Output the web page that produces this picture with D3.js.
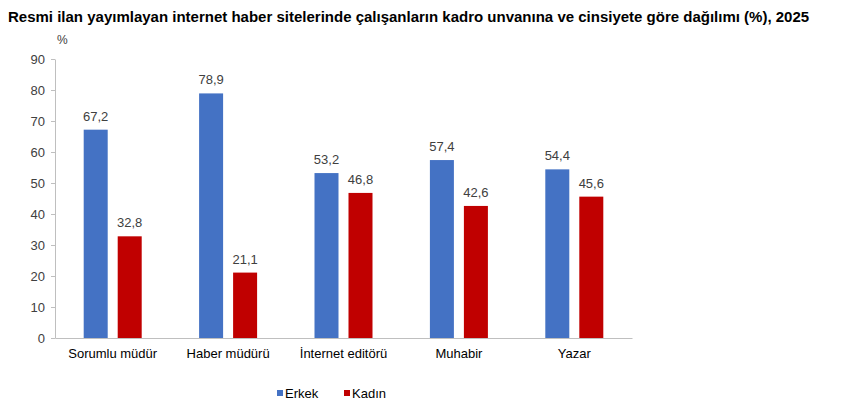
<!DOCTYPE html>
<html>
<head>
<meta charset="utf-8">
<script src="https://cdn.jsdelivr.net/npm/d3@7"></script>
<style>
  body { margin: 0; background: #fff; }
  svg { font-family: Arial, "Liberation Sans", sans-serif; }
</style>
</head>
<body>
<svg id="chart"></svg>
<script>
const titleText = "Resmi ilan yayımlayan internet haber sitelerinde çalışanların kadro unvanına ve cinsiyete göre dağılımı (%), 2025";
const categories = ["Sorumlu müdür", "Haber müdürü", "İnternet editörü", "Muhabir", "Yazar"];
const seriesNames = ["Erkek", "Kadın"];
const erkek = [67.2, 78.9, 53.2, 57.4, 54.4];
const kadin = [32.8, 21.1, 46.8, 42.6, 45.6];
const yTicks = [0, 10, 20, 30, 40, 50, 60, 70, 80, 90];
const colors = ["#4472C4", "#C00000"];

const width = 850, height = 416;
const margin = {top: 59, right: 218, bottom: 78, left: 55};
const innerW = width - margin.left - margin.right;
const innerH = height - margin.top - margin.bottom;

const svg = d3.select("#chart")
    .attr("width", width)
    .attr("height", height);

svg.append("text")
    .attr("x", 8)
    .attr("y", 22)
    .attr("font-size", 15)
    .attr("font-weight", "bold")
    .attr("fill", "#000")
    .text(titleText);

const chart = svg.append("g")
    .attr("transform", `translate(${margin.left}, ${margin.top})`);

const xscale = d3.scaleBand()
    .domain(categories)
    .range([0, innerW]);

const yscale = d3.scaleLinear()
    .domain([0, 90])
    .range([innerH, 0]);

const barW = 24, gap = 10;
const inner = d3.scaleBand()
    .domain(seriesNames)
    .range([-(barW + gap / 2), barW + gap / 2])
    .paddingInner(gap / (barW + gap));

// y axis
const yaxis = d3.axisLeft(yscale)
    .tickValues(yTicks)
    .tickSize(4)
    .tickSizeOuter(0)
    .tickPadding(6);

const yaxis_group = chart.append("g").call(yaxis);
yaxis_group.select(".domain").attr("stroke", "#bfbfbf");
yaxis_group.selectAll(".tick line").attr("stroke", "#bfbfbf");
yaxis_group.selectAll(".tick text")
    .attr("font-size", 13)
    .attr("fill", "#404040")
    .attr("font-family", "Arial, 'Liberation Sans', sans-serif");

chart.append("text")
    .attr("x", 2)
    .attr("y", -15)
    .attr("font-size", 12)
    .attr("fill", "#404040")
    .text("%");

const rows = categories.map((c, i) => ({cat: c, values: [erkek[i], kadin[i]]}));

const groups = chart.selectAll(".grp")
    .data(rows)
    .enter()
    .append("g")
    .attr("transform", d => `translate(${xscale(d.cat) + xscale.bandwidth() / 2}, 0)`);

const bars = groups.selectAll("g.bar")
    .data(d => d.values.map((v, j) => ({name: seriesNames[j], value: v, j: j})))
    .enter()
    .append("g");

bars.append("rect")
    .attr("x", d => inner(d.name))
    .attr("width", inner.bandwidth())
    .attr("y", d => yscale(d.value))
    .attr("height", d => innerH - yscale(d.value))
    .attr("fill", d => colors[d.j]);

bars.append("text")
    .attr("x", d => inner(d.name) + inner.bandwidth() / 2)
    .attr("y", d => yscale(d.value) - 9)
    .attr("text-anchor", "middle")
    .attr("font-size", 13)
    .attr("fill", "#404040")
    .text(d => d3.format(".1f")(d.value).replace(".", ","));

// x axis
const xaxis = d3.axisBottom(xscale)
    .tickSize(0)
    .tickSizeOuter(0)
    .tickPadding(11);

const xaxis_group = chart.append("g")
    .attr("transform", `translate(0, ${innerH})`)
    .call(xaxis);
xaxis_group.select(".domain").attr("stroke", "#bfbfbf");
xaxis_group.selectAll(".tick text")
    .attr("font-size", 13)
    .attr("fill", "#000")
    .attr("font-family", "Arial, 'Liberation Sans', sans-serif");

// legend
const legend = svg.append("g")
    .attr("transform", "translate(277, 393)");

const items = legend.selectAll("g")
    .data(seriesNames)
    .enter()
    .append("g")
    .attr("transform", (d, i) => `translate(${i * 67}, 0)`);

items.append("rect")
    .attr("x", 0)
    .attr("y", -3)
    .attr("width", 6)
    .attr("height", 6)
    .attr("fill", (d, i) => colors[i]);

items.append("text")
    .attr("x", 8)
    .attr("y", 5)
    .attr("font-size", 13)
    .attr("fill", "#000")
    .text(d => d);
</script>
</body>
</html>
